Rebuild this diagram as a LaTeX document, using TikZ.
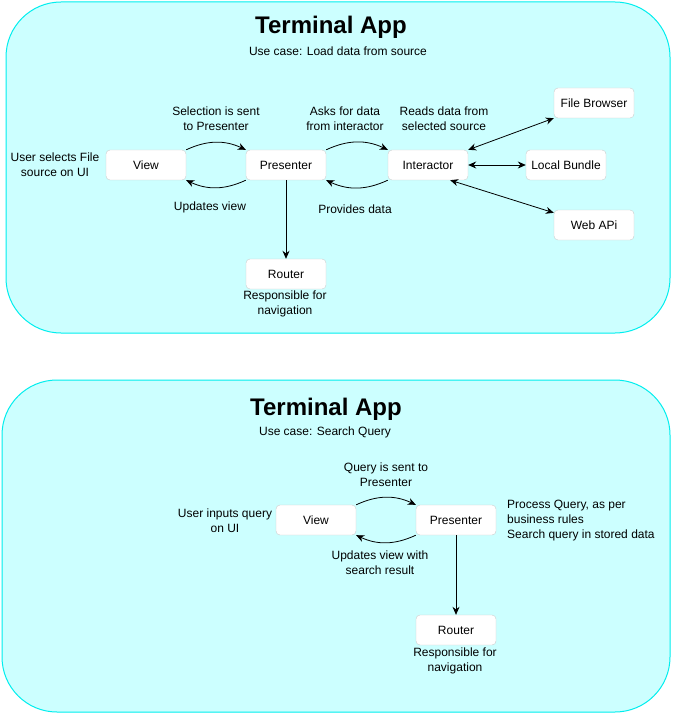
\documentclass[tikz,border=0pt]{standalone}
\usepackage{fontspec}
\setmainfont{Liberation Sans}
\usetikzlibrary{arrows.meta}
\definecolor{appfill}{RGB}{204,255,255}
\definecolor{appline}{RGB}{0,238,238}
\tikzset{
  appbox/.style={draw=appline, fill=appfill, line width=1pt, rounded corners=55pt},
  apptitle/.style={font=\bfseries\fontsize{24}{28}\selectfont},
  block/.style={draw=black!20, fill=white, rounded corners=4pt, minimum width=80pt, minimum height=30pt, inner sep=0pt, font=\fontsize{12}{14}\selectfont},
  note/.style={align=center, inner sep=0pt, font=\fontsize{12}{15}\selectfont},
  flow/.style={-{Stealth[length=8pt,width=7pt]}, line width=0.8pt},
  twoway/.style={{Stealth[length=8pt,width=7pt]}-{Stealth[length=8pt,width=7pt]}, line width=0.8pt}
}
\begin{document}
\begin{tikzpicture}[x=1pt,y=-1pt]
\useasboundingbox (0,0) rectangle (676,714);
% load data from source
\draw[appbox] (6,2) rectangle (670,333);
\node[apptitle] (title1) at (331,27) {Terminal App};
\node[note] (case1) at (338,51) {Use case: Load data from source};
\foreach \name/\x/\y/\txt in {view1/146/165/View, pres1/286/165/Presenter, inter/428/165/Interactor,
  files/594/103/File Browser, bundle/566/165/Local Bundle, webapi/594/225/Web APi, router1/286/274/Router}{
  \node[block] (\name) at (\x,\y) {\txt};
}
\node[note] (user1) at (55,165) {User selects File\\source on UI};
\node[note] (sel) at (216,119) {Selection is sent\\to Presenter};
\node[note] (asks) at (345,119) {Asks for data\\from interactor};
\node[note] (reads) at (444,119) {Reads data from\\selected source};
\node[note] (upd1) at (210,207) {Updates view};
\node[note] (prov) at (355,209) {Provides data};
\node[note] (resp1) at (285,304) {Responsible for\\navigation};
\draw[flow] (view1.north east) to[bend left=25] (pres1.north west);
\draw[flow] (pres1.south west) to[bend left=25] (view1.south east);
\draw[flow] (pres1.north east) to[bend left=25] (inter.north west);
\draw[flow] (inter.south west) to[bend left=25] (pres1.south east);
\draw[twoway] (inter.north east) -- (files.south west);
\draw[twoway] (inter.east) -- (bundle.west);
\draw[twoway] ([xshift=-18pt]inter.south east) -- ([yshift=-3pt]webapi.north west);
\draw[flow] (pres1.south) -- (router1.north);
% search query
\draw[appbox] (2,380) rectangle (670,712);
\node[apptitle] (title2) at (326,409) {Terminal App};
\node[note] (case2) at (325,432) {Use case: Search Query};
\foreach \name/\x/\y/\txt in {view2/316/520/View, pres2/456/520/Presenter, router2/456/630/Router}{
  \node[block] (\name) at (\x,\y) {\txt};
}
\node[note] (user2) at (225,521) {User inputs query\\on UI};
\node[note] (query) at (386,475) {Query is sent to\\Presenter};
\node[note] (upd2) at (380,563) {Updates view with\\search result};
\node[note, align=left, anchor=west] (proc) at (507,521) {Process Query, as per\\business rules\\Search query in stored data};
\node[note] (resp2) at (455,661) {Responsible for\\navigation};
\draw[flow] (view2.north east) to[bend left=25] (pres2.north west);
\draw[flow] (pres2.south west) to[bend left=25] (view2.south east);
\draw[flow] (pres2.south) -- (router2.north);
\end{tikzpicture}
\end{document}
